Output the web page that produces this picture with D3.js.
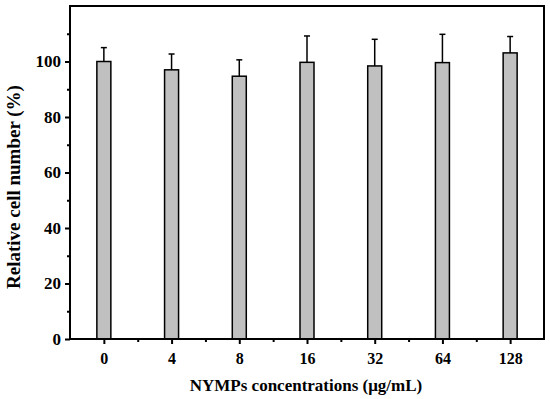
<!DOCTYPE html>
<html>
<head>
<meta charset="utf-8">
<script src="https://cdn.jsdelivr.net/npm/d3@7"></script>
<style>
  body { margin: 0; background: #fff; }
  svg text { font-family: "Liberation Serif", "Times New Roman", serif; font-weight: bold; }
</style>
</head>
<body>
<svg id="chart" width="550" height="399"></svg>
<script>
const categories = ["0", "4", "8", "16", "32", "64", "128"];
const values = [100, 97, 94.7, 99.7, 98.4, 99.6, 103.1];
const errors = [5, 5.7, 5.9, 9.5, 9.6, 10.2, 5.9];
const yTicks = [0, 20, 40, 60, 80, 100];

const width = 550, height = 399;
const margin = { top: 6, right: 6, bottom: 60, left: 70 };
const w = width - margin.left - margin.right;
const h = height - margin.top - margin.bottom;

const svg = d3.select("#chart");
const g = svg.append("g").attr("transform", `translate(${margin.left},${margin.top})`);

// index-based linear x so minor ticks can sit between the categories
const x = d3.scaleLinear().domain([-0.5, categories.length - 0.5]).range([0, w]);
const y = d3.scaleLinear().domain([0, 120]).range([h, 0]);
const barW = 14;

// bars
g.selectAll(".bar")
  .data(values)
  .enter().append("rect")
  .attr("class", "bar")
  .attr("x", (d, i) => x(i) - barW / 2)
  .attr("y", d => y(d))
  .attr("width", barW)
  .attr("height", d => h - y(d))
  .attr("fill", "#c0c0c0")
  .attr("stroke", "#000")
  .attr("stroke-width", 1.5);

// error bars (upper only)
g.selectAll(".err")
  .data(values)
  .enter().append("line")
  .attr("x1", (d, i) => x(i))
  .attr("x2", (d, i) => x(i))
  .attr("y1", d => y(d))
  .attr("y2", (d, i) => y(d + errors[i]))
  .attr("stroke", "#000")
  .attr("stroke-width", 1.5);

g.selectAll(".cap")
  .data(values)
  .enter().append("line")
  .attr("x1", (d, i) => x(i) - 3)
  .attr("x2", (d, i) => x(i) + 3)
  .attr("y1", (d, i) => y(d + errors[i]))
  .attr("y2", (d, i) => y(d + errors[i]))
  .attr("stroke", "#000")
  .attr("stroke-width", 1.5);

// frame
g.append("rect")
  .attr("x", 0).attr("y", 0)
  .attr("width", w).attr("height", h)
  .attr("fill", "none")
  .attr("stroke", "#000")
  .attr("stroke-width", 2);

// x axis
const xAxis = d3.axisBottom(x)
  .tickValues(d3.range(categories.length))
  .tickFormat(i => categories[i])
  .tickSize(5);
const gx = g.append("g").attr("transform", `translate(0,${h})`).call(xAxis);
gx.select(".domain").remove();
gx.selectAll(".tick line").attr("stroke-width", 2);
gx.selectAll("text").attr("font-size", 16).attr("fill", "#000")
  .attr("dy", null).attr("y", 25);

const gxMinor = g.append("g").attr("transform", `translate(0,${h})`)
  .call(d3.axisBottom(x).tickValues(d3.range(0.5, categories.length - 1, 1)).tickSize(3).tickFormat(""));
gxMinor.select(".domain").remove();
gxMinor.selectAll(".tick line").attr("stroke-width", 2);

// y axis
const yAxis = d3.axisLeft(y).tickValues(yTicks).tickSize(5).tickPadding(4);
const gy = g.append("g").call(yAxis);
gy.select(".domain").remove();
gy.selectAll(".tick line").attr("stroke-width", 2);
gy.selectAll("text").attr("font-size", 17).attr("fill", "#000");

const gyMinor = g.append("g")
  .call(d3.axisLeft(y).tickValues([10, 30, 50, 70, 90, 110]).tickSize(3).tickFormat(""));
gyMinor.select(".domain").remove();
gyMinor.selectAll(".tick line").attr("stroke-width", 2);

// titles
svg.append("text")
  .attr("x", 306)
  .attr("y", 391)
  .attr("text-anchor", "middle")
  .attr("font-size", 17)
  .text("NYMPs concentrations (μg/mL)");

svg.append("text")
  .attr("transform", "translate(20,187) rotate(-90)")
  .attr("text-anchor", "middle")
  .attr("font-size", 19)
  .text("Relative cell number (%)");
</script>
</body>
</html>
